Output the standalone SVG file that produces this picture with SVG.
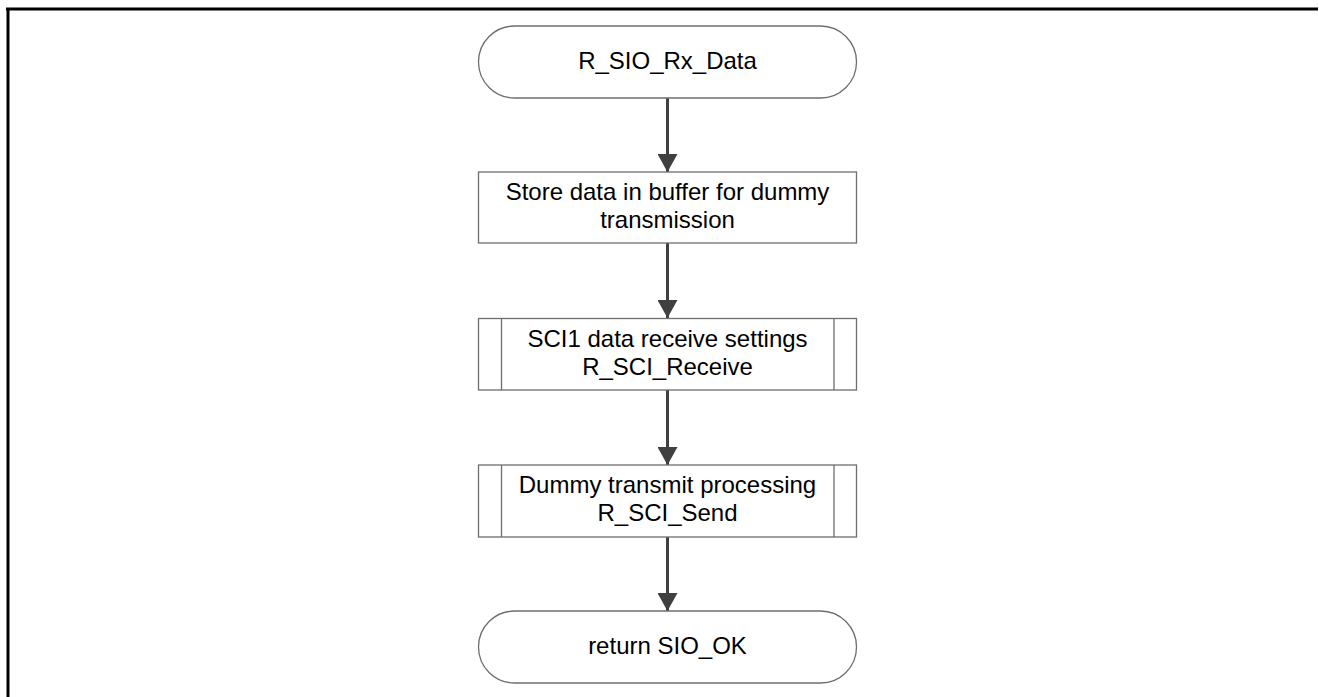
<svg xmlns="http://www.w3.org/2000/svg" width="1319" height="697" viewBox="0 0 1319 697">
<style>
.frame{fill:none;stroke:#000;stroke-width:3}
.shape{fill:#fff;stroke:#6e6e6e;stroke-width:1.3}
.conn{fill:none;stroke:#404040;stroke-width:3}
text{font-family:"Liberation Sans",Arial,sans-serif;font-size:24px;fill:#000;text-anchor:middle}
</style>
<defs>
<marker id="arrow" markerUnits="userSpaceOnUse" markerWidth="20" markerHeight="20" refX="18" refY="10" orient="auto" viewBox="0 0 20 20">
<path d="M0,0 L18,10 L0,20 Z" fill="#404040"/>
</marker>
</defs>
<path class="frame" d="M6,9 H1318 M8,9 V697"/>
<g id="connectors">
<line class="conn" x1="667.5" y1="98" x2="667.5" y2="172" marker-end="url(#arrow)"/>
<line class="conn" x1="667.5" y1="243" x2="667.5" y2="318" marker-end="url(#arrow)"/>
<line class="conn" x1="667.5" y1="390" x2="667.5" y2="465" marker-end="url(#arrow)"/>
<line class="conn" x1="667.5" y1="537" x2="667.5" y2="611" marker-end="url(#arrow)"/>
</g>
<g id="start">
<rect class="shape" x="478.5" y="26" width="378" height="72" rx="36" ry="36"/>
<text x="667.5" y="69">R_SIO_Rx_Data</text>
</g>
<g id="store">
<rect class="shape" x="478.5" y="172" width="378" height="71"/>
<text x="667.5" y="200">Store data in buffer for dummy</text>
<text x="667.5" y="228">transmission</text>
</g>
<g id="receive">
<rect class="shape" x="478.5" y="318.5" width="378" height="71.5"/>
<line class="shape" x1="501.5" y1="318.5" x2="501.5" y2="390"/>
<line class="shape" x1="834" y1="318.5" x2="834" y2="390"/>
<text x="667.5" y="347">SCI1 data receive settings</text>
<text x="667.5" y="375">R_SCI_Receive</text>
</g>
<g id="send">
<rect class="shape" x="478.5" y="465" width="378" height="72"/>
<line class="shape" x1="501.5" y1="465" x2="501.5" y2="537"/>
<line class="shape" x1="834" y1="465" x2="834" y2="537"/>
<text x="667.5" y="493">Dummy transmit processing</text>
<text x="667.5" y="521">R_SCI_Send</text>
</g>
<g id="end">
<rect class="shape" x="478.5" y="611" width="378" height="72" rx="36" ry="36"/>
<text x="667.5" y="654">return SIO_OK</text>
</g>
</svg>
